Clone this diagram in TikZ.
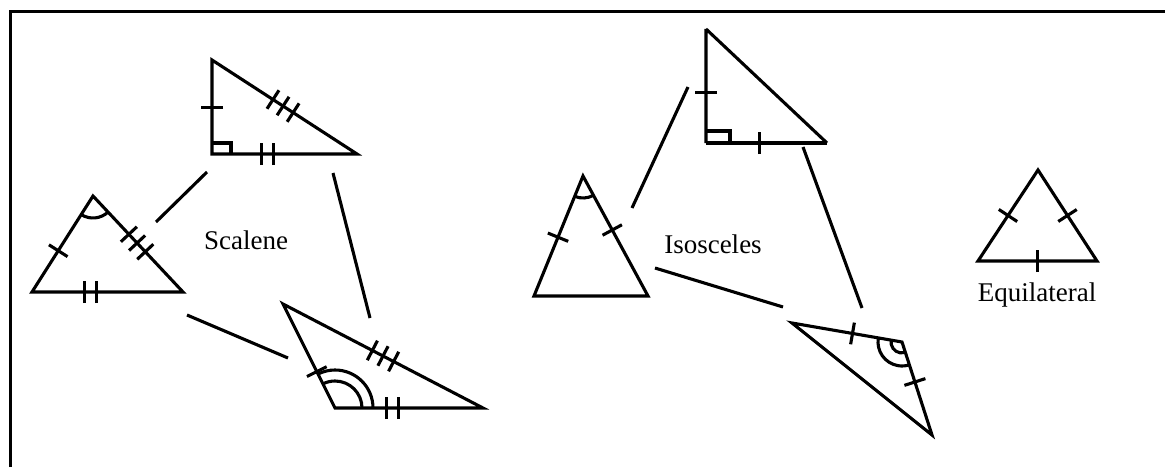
\documentclass[tikz,border=0pt]{standalone}
\usepackage{fontspec}
\setmainfont{Liberation Serif}
\usetikzlibrary{calc,decorations.markings}

\tikzset{
  groupname/.style={font=\fontsize{27}{32}\selectfont},
  onetick/.style={postaction={decorate,decoration={markings,
    mark=at position #1 with {\draw (0,-11) -- (0,11);}}}},
  onetick/.default=0.5,
  twotick/.style={postaction={decorate,decoration={markings,
    mark=at position #1 with {\draw (-6,-11) -- (-6,11) (6,-11) -- (6,11);}}}},
  twotick/.default=0.5,
  threetick/.style={postaction={decorate,decoration={markings,
    mark=at position #1 with {\draw (-12,-11) -- (-12,11) (0,-11) -- (0,11) (12,-11) -- (12,11);}}}},
  threetick/.default=0.5,
}

\begin{document}
\begin{tikzpicture}[x=1pt,y=1pt,line width=3.1pt]
    \useasboundingbox (0,0) rectangle (1165,467);

    % frame (top and left only)
    \coordinate (fa) at (10,0);
    \coordinate (fb) at (10,455);
    \coordinate (fc) at (1165,455);
    \draw[line width=3pt] (fa) -- (fb) -- (fc);

    % Scalene: acute
    \coordinate (a1) at (93,271);
    \coordinate (a2) at (32,175);
    \coordinate (a3) at (183,175);
    \draw (a1) -- (a2) -- (a3) -- cycle;
    \path[onetick=0.57] (a1) -- (a2);
    \path[threetick=0.49] (a1) -- (a3);
    \path[twotick=0.39] (a2) -- (a3);
    \draw ([shift={(237.6:22)}]a1) arc[start angle=237.6,end angle=313.2,radius=22];

    % Scalene: right angle
    \coordinate (b1) at (212,407);
    \coordinate (b2) at (212,313);
    \coordinate (b3) at (357,313);
    \draw (b1) -- (b2) -- (b3) -- cycle;
    \draw ($(b2)+(0,11)$) -| ($(b2)+(19,0)$);
    \path[onetick=0.49] (b2) -- (b1);
    \path[twotick=0.38] (b2) -- (b3);
    \path[threetick=0.49] (b1) -- (b3);

    % Scalene: obtuse
    \coordinate (c1) at (283,163);
    \coordinate (c2) at (335,59);
    \coordinate (c3) at (483,59);
    \draw (c1) -- (c2) -- (c3) -- cycle;
    \path[onetick=0.65] (c1) -- (c2);
    \path[threetick=0.5] (c1) -- (c3);
    \path[twotick=0.39] (c2) -- (c3);
    \draw ([shift={(0:27)}]c2) arc[start angle=0,end angle=116.6,radius=27];
    \draw ([shift={(0:38)}]c2) arc[start angle=0,end angle=116.6,radius=38];

    % links between the scalene triangles
    \coordinate (l1a) at (207,295);
    \coordinate (l1b) at (156,245);
    \coordinate (l2a) at (333,294);
    \coordinate (l2b) at (370,149);
    \coordinate (l3a) at (187,152);
    \coordinate (l3b) at (288,109);
    \draw (l1a) -- (l1b);
    \draw (l2a) -- (l2b);
    \draw (l3a) -- (l3b);

    \node[groupname] (scalene) at (246,227) {Scalene};

    % Isosceles: acute
    \coordinate (d1) at (583,291);
    \coordinate (d2) at (534,171);
    \coordinate (d3) at (648,171);
    \draw (d1) -- (d2) -- (d3) -- cycle;
    \path[onetick=0.51] (d1) -- (d2);
    \path[onetick=0.45] (d1) -- (d3);
    \draw ([shift={(247.8:22)}]d1) arc[start angle=247.8,end angle=298.4,radius=22];

    % Isosceles: right angle
    \coordinate (e1) at (706,438);
    \coordinate (e2) at (706,324);
    \coordinate (e3) at (827,324);
    \draw (e1) -- (e2) (e3) -- (e1);
    \draw[line width=4pt] (e2) -- (e3);
    \draw ($(e2)+(0,12)$) -| ($(e2)+(24,0)$);
    \path[onetick=0.44] (e2) -- (e1);
    \path[onetick=0.44] (e2) -- (e3);

    % Isosceles: obtuse
    \coordinate (g1) at (792,144);
    \coordinate (g2) at (902,125);
    \coordinate (g3) at (932,32);
    \draw (g1) -- (g2) -- (g3) -- cycle;
    \path[onetick=0.55] (g1) -- (g2);
    \path[onetick=0.43] (g2) -- (g3);
    \draw ([shift={(170.2:24)}]g2) arc[start angle=170.2,end angle=287.9,radius=24];
    \draw ([shift={(170.2:11)}]g2) arc[start angle=170.2,end angle=287.9,radius=11];

    % links between the isosceles triangles
    \coordinate (l4a) at (688,380);
    \coordinate (l4b) at (632,259);
    \coordinate (l5a) at (803,320);
    \coordinate (l5b) at (862,159);
    \coordinate (l6a) at (655,199);
    \coordinate (l6b) at (783,160);
    \draw (l4a) -- (l4b);
    \draw (l5a) -- (l5b);
    \draw (l6a) -- (l6b);

    \node[groupname] (isosceles) at (713,223) {Isosceles};

    % Equilateral
    \coordinate (h1) at (1038,297);
    \coordinate (h2) at (978,206);
    \coordinate (h3) at (1097,206);
    \draw (h1) -- (h2) -- (h3) -- cycle;
    \path[onetick] (h1) -- (h2);
    \path[onetick] (h1) -- (h3);
    \path[onetick] (h2) -- (h3);

    \node[groupname] (equilateral) at (1037,172) {Equilateral};
\end{tikzpicture}
\end{document}
